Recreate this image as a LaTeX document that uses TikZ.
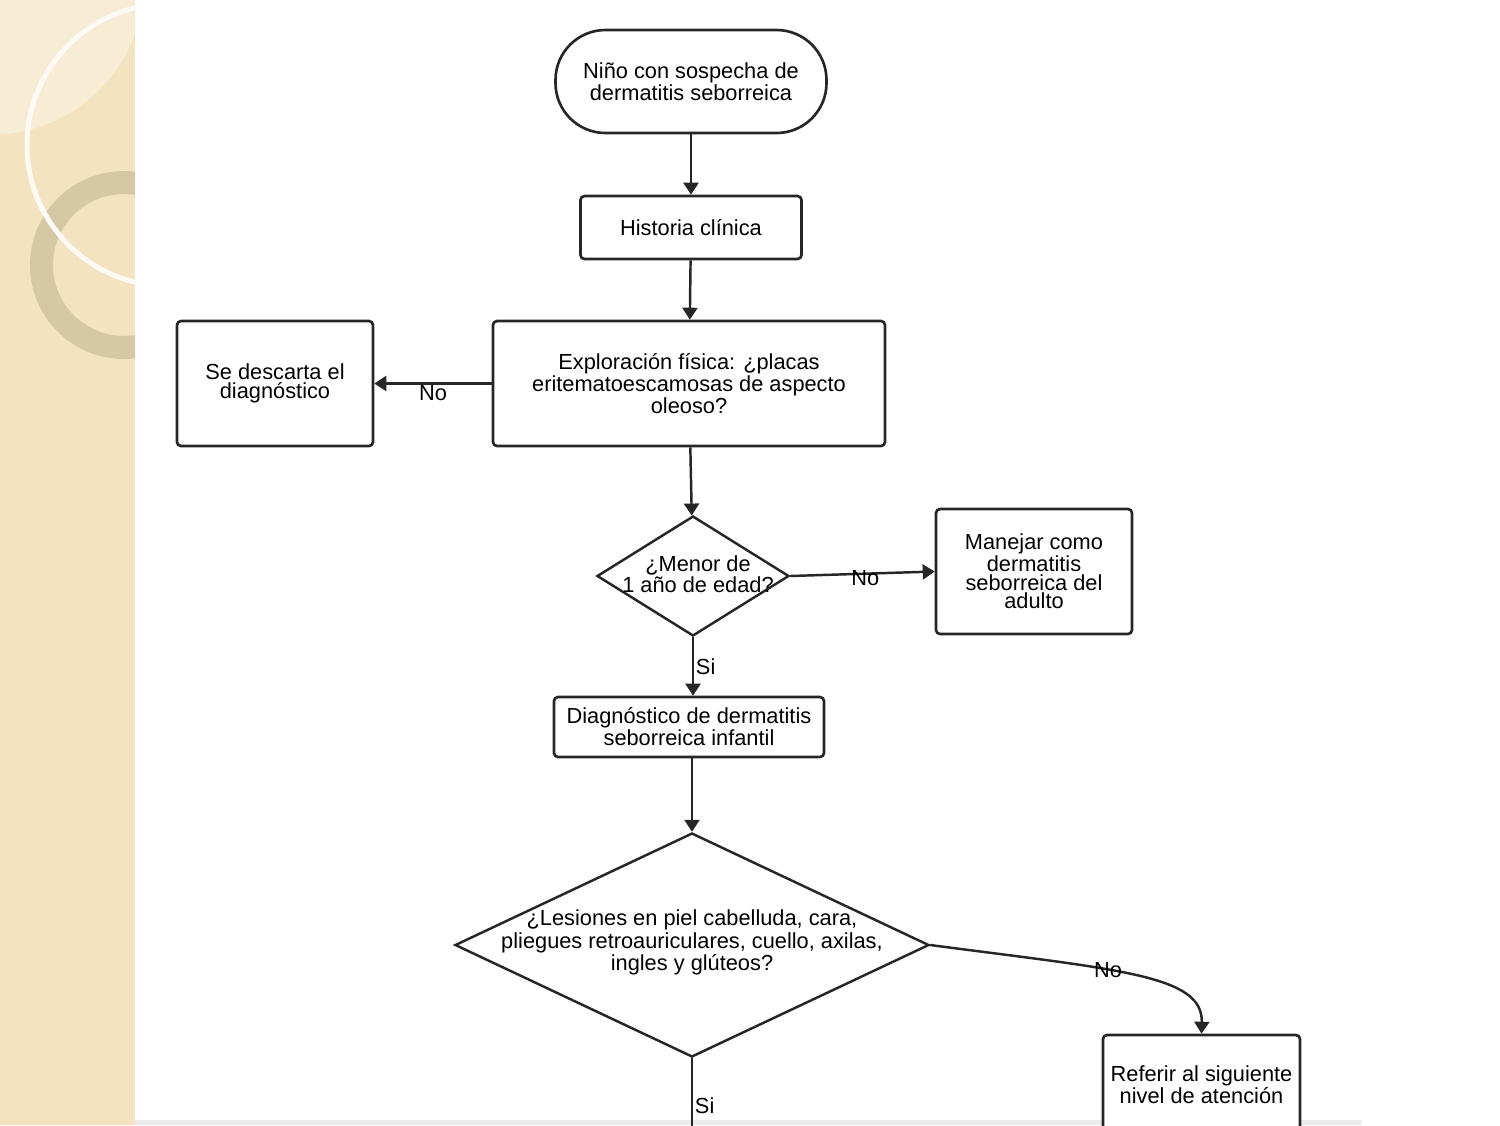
\documentclass[tikz,border=0pt]{standalone}
\usepackage{fontspec}
\setmainfont{Liberation Sans}
\usetikzlibrary{shapes.geometric,arrows.meta}
\definecolor{stripc}{HTML}{F3E3C0}
\definecolor{stripl}{HTML}{F7ECD4}
\definecolor{ringc}{HTML}{CDBE9C}
\definecolor{linec}{HTML}{262626}
\newcommand{\txtfont}{\fontsize{12.4}{10.6}\selectfont}
\begin{document}
\begin{tikzpicture}[x=0.2mm,y=-0.2mm,
  box/.style={draw=linec, line width=1.5pt, fill=white, rounded corners=0.8mm,
    font=\txtfont, align=center, inner sep=0pt},
  startbox/.style={box, rounded corners=10mm},
  decision/.style={draw=linec, line width=1.4pt, fill=white, shape=diamond,
    inner sep=0pt, font=\txtfont},
  edgelbl/.style={font=\txtfont, inner sep=1pt},
  conn/.style={draw=linec, line width=1.4pt, -{Triangle[length=2.4mm,width=3mm]}},
  plainconn/.style={draw=linec, line width=1.4pt}
]
\clip (0,0) rectangle (1500,1125);
\fill[white] (0,0) rectangle (1500,1125);
% left decorative strip
\begin{scope}
  \clip (0,0) rectangle (135,1125);
  \fill[stripc] (0,0) rectangle (135,1125);
  \fill[stripl] (-10,-20) circle[radius=155];
  \fill[ringc, opacity=0.75, even odd rule] (124,265) circle[radius=94] (124,265) circle[radius=71];
  \draw[white!80!stripc, line width=1mm] (168,145) circle[radius=141];
\end{scope}
\fill[gray!15] (135,1120) rectangle (1362,1125);

% nodes
\node[startbox, minimum width=54.2mm, minimum height=20.6mm] (start) at (691,81.5)
  {Niño con sospecha de\\dermatitis seborreica};
\node[box, minimum width=44.2mm, minimum height=12.6mm] (hist) at (691,227.5)
  {Historia clínica};
\node[box, minimum width=78.4mm, minimum height=25mm] (expl) at (689,383.5)
  {Exploración física: ¿placas\\eritematoescamosas de aspecto\\oleoso?};
\node[box, minimum width=39.2mm, minimum height=25mm] (desc) at (275,383.5)
  {Se descarta el\\diagnóstico};
\node[decision, minimum width=38.4mm, minimum height=24mm,
  label={[font=\txtfont, align=center, xshift=1mm, yshift=0.3mm]center:{¿Menor de\\1 año de edad?}}] (d1) at (693,576) {};
\node[box, minimum width=39.2mm, minimum height=25mm] (man) at (1034,571.5)
  {Manejar como\\dermatitis\\seborreica del\\adulto};
\node[box, minimum width=54mm, minimum height=12mm] (diag) at (689,727)
  {Diagnóstico de dermatitis\\seborreica infantil};
\node[decision, minimum width=94.8mm, minimum height=44.8mm,
  label={[font=\txtfont, align=center, yshift=0.5mm]center:{¿Lesiones en piel cabelluda, cara,\\pliegues retroauriculares, cuello, axilas,\\ingles y glúteos?}}] (d2) at (692,945) {};
\node[box, minimum width=39.4mm, minimum height=20mm] (ref) at (1201.5,1085)
  {Referir al siguiente\\nivel de atención};
\coordinate (dn) at (692,1135);

% connectors
\draw[conn] (start) -- (hist);
\draw[conn] (hist) -- (expl);
\draw[conn] (expl.west) -- node[edgelbl, below, inner sep=0.6pt] {No} (desc.east);
\draw[conn] (expl) -- (d1);
\draw[conn] (d1.east) -- node[edgelbl, pos=0.52, yshift=-0.8mm] {No} (man.west);
\draw[conn] (d1.south) -- node[edgelbl, right] {Si} (diag.north -| d1.south);
\draw[conn] (diag.south -| d2.north) -- (d2.north);
\draw[conn] (d2.east) .. controls (1120,970) and (1203,975) .. node[edgelbl, pos=0.4] {No} (ref.north);
\draw[plainconn] (d2.south) -- node[edgelbl, right, pos=0.62] {Si} (dn);
\end{tikzpicture}
\end{document}
